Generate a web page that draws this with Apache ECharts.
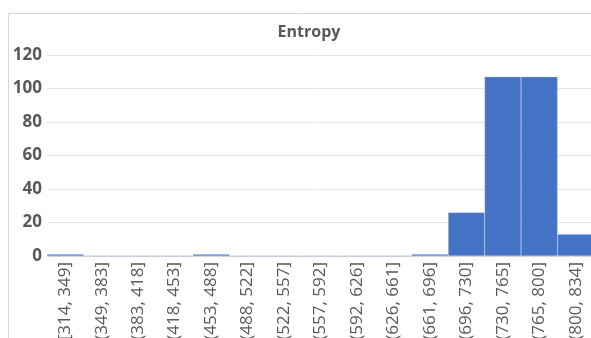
<!DOCTYPE html>
<html>
<head>
<meta charset="utf-8">
<script src="https://cdn.jsdelivr.net/npm/echarts@6/dist/echarts.min.js"></script>
<style>
  html, body { margin: 0; padding: 0; background: #fff; }
  #chart { width: 591px; height: 338px; }
</style>
</head>
<body>
<div id="chart"></div>
<script>
// Histogram bins of entropy values and their counts
const bins = ['[314, 349]', '(349, 383]', '(383, 418]', '(418, 453]', '(453, 488]',
  '(488, 522]', '(522, 557]', '(557, 592]', '(592, 626]', '(626, 661]',
  '(661, 696]', '(696, 730]', '(730, 765]', '(765, 800]', '(800, 834]'];
const counts = [1, 0, 0, 0, 1, 0, 0, 0, 0, 0, 1, 26, 107, 107, 13];
const yTicks = { min: 0, max: 120, interval: 20 };

const FONT = '"Open Sans", "Noto Sans", sans-serif';
const chart = echarts.init(document.getElementById('chart'), null, { renderer: 'canvas' });
chart.setOption({
  animation: false,
  backgroundColor: '#ffffff',
  graphic: [{
    type: 'rect',
    shape: { x: 8.5, y: 13.5, width: 700, height: 400 },
    style: { fill: 'none', stroke: '#d9d9d9', lineWidth: 1 },
    silent: true
  }],
  title: {
    text: 'Entropy',
    left: 304, top: 19, textAlign: 'center',
    textStyle: { fontFamily: FONT, fontSize: 16, fontWeight: 'bold', color: '#595959' }
  },
  grid: {
    left: 47, top: 55, width: 547, height: 201,
    containLabel: false, outerBoundsMode: 'none'
  },
  xAxis: {
    type: 'category',
    data: bins,
    axisLine: { lineStyle: { color: '#d9d9d9' } },
    axisTick: { show: false },
    axisLabel: {
      rotate: 90, interval: 0, margin: 6,
      fontFamily: FONT, fontSize: 17, color: '#595959'
    }
  },
  yAxis: {
    type: 'value',
    min: yTicks.min, max: yTicks.max, interval: yTicks.interval,
    axisLine: { show: false },
    axisTick: { show: false },
    splitLine: { lineStyle: { color: '#e6e6e6' } },
    axisLabel: {
      margin: 5,
      fontFamily: FONT, fontSize: 17, fontWeight: 'bold', color: '#595959'
    }
  },
  series: [{
    type: 'bar',
    data: counts,
    barWidth: '100%',
    barCategoryGap: 0,
    itemStyle: { color: '#4472c4', borderColor: 'rgba(160,185,230,0.7)', borderWidth: 0.5 }
  }]
});
</script>
</body>
</html>
